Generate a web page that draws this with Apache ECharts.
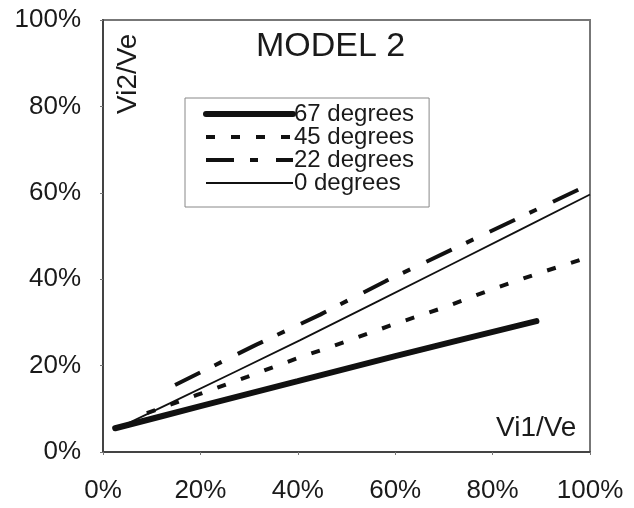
<!DOCTYPE html>
<html>
<head>
<meta charset="utf-8">
<script src="https://cdn.jsdelivr.net/npm/echarts@6/dist/echarts.min.js"></script>
<style>html,body{margin:0;padding:0;background:#fff}#c{width:634px;height:508px}</style>
</head>
<body>
<div id="c"></div>
<script>
var titleText = 'MODEL 2';
var xName = 'Vi1/Ve';
var yName = 'Vi2/Ve';
var seriesNames = ['67 degrees', '45 degrees', '22 degrees', '0 degrees'];

var x67 = [2.5, 20, 40, 60, 89];
var y67 = [5.5, 10.6, 16.4, 22.2, 30.3];

var x45 = [9, 19.3, 29.6, 39.4, 49.7, 59.3, 69.6, 79.5, 89.5, 100];
var y45 = [9, 13.2, 17.4, 21.5, 25.5, 29.4, 33.3, 37.5, 41.4, 45.2];

var x22 = [14.8, 31.4, 44.6, 58.1, 71.9, 85.8, 100];
var y22 = [15.5, 24.8, 31.8, 39.6, 47, 54.4, 62];

var x0 = [3, 13.8, 40.5, 71.3, 100];
var y0 = [5.5, 11.3, 25.9, 43.3, 59.6];

function pairs(xs, ys) { return xs.map(function (x, i) { return [x, ys[i]]; }); }

var FONT = 'Liberation Sans, Arial, sans-serif';
var INK = '#1a1a1a';
var widths = [6, 4, 4, 1.8];
var dashes = ['solid', [9, 16], [28, 16, 8, 18], 'solid'];

var chart = echarts.init(document.getElementById('c'));
chart.setOption({
  animation: false,
  backgroundColor: '#fff',
  textStyle: { fontFamily: FONT, color: INK },
  title: {
    text: titleText, left: 251, top: 25,
    textStyle: { fontFamily: FONT, fontSize: 34, fontWeight: 'normal', color: INK }
  },
  legend: {
    orient: 'vertical', left: 185, top: 98,
    data: seriesNames.map(function (n, i) {
      return { name: n, lineStyle: { width: widths[i], type: dashes[i], color: '#111' } };
    }),
    itemWidth: 87, itemHeight: 14, itemGap: -1,
    padding: [4, 15, 12, 18],
    borderColor: '#888', borderWidth: 1,
    itemStyle: { opacity: 0 },
    textStyle: { fontFamily: FONT, fontSize: 24, lineHeight: 22, color: INK, padding: [0, 0, 0, -4] },
    inactiveColor: INK
  },
  grid: { left: 103, top: 20, right: 44, bottom: 56, show: true, borderColor: '#777', borderWidth: 2 },
  xAxis: {
    type: 'value', min: 0, max: 100, interval: 20,
    axisLine: { show: true, onZero: false, lineStyle: { color: '#444', width: 2 } },
    axisTick: { show: true, length: 3, lineStyle: { color: '#777' } },
    splitLine: { show: false },
    axisLabel: { fontFamily: FONT, fontSize: 26, color: INK, margin: 26, formatter: '{value}%' }
  },
  yAxis: {
    type: 'value', min: 0, max: 100, interval: 20,
    axisLine: { show: true, onZero: false, lineStyle: { color: '#444', width: 2 } },
    axisTick: { show: true, length: 3, lineStyle: { color: '#777' } },
    splitLine: { show: false },
    axisLabel: { fontFamily: FONT, fontSize: 26, color: INK, margin: 22, formatter: '{value}%' }
  },
  graphic: [
    { type: 'text', left: 496, top: 414, style: { text: xName, fontFamily: FONT, fontSize: 28, fill: INK } },
    { type: 'text', x: 114, y: 114, rotation: Math.PI / 2, style: { text: yName, fontFamily: FONT, fontSize: 28, fill: INK } }
  ],
  series: [
    { name: seriesNames[0], type: 'line', data: pairs(x67, y67), symbol: 'none', smooth: 0.3,
      lineStyle: { color: '#111', width: widths[0], cap: 'round' }, itemStyle: { color: '#111' } },
    { name: seriesNames[1], type: 'line', data: pairs(x45, y45), symbol: 'none',
      lineStyle: { color: '#111', width: widths[1], type: dashes[1] }, itemStyle: { color: '#111' } },
    { name: seriesNames[2], type: 'line', data: pairs(x22, y22), symbol: 'none',
      lineStyle: { color: '#111', width: widths[2], type: dashes[2] }, itemStyle: { color: '#111' } },
    { name: seriesNames[3], type: 'line', data: pairs(x0, y0), symbol: 'none', smooth: 0.2,
      lineStyle: { color: '#111', width: widths[3] }, itemStyle: { color: '#111' } }
  ]
});
</script>
</body>
</html>
